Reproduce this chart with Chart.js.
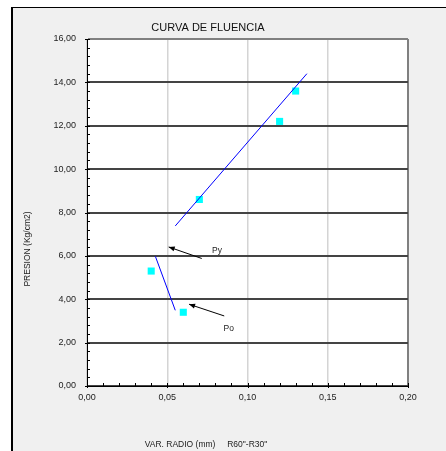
<!DOCTYPE html>
<html>
<head>
<meta charset="utf-8">
<script src="https://cdn.jsdelivr.net/npm/chart.js@4/dist/chart.umd.min.js"></script>
<style>
html,body{margin:0;padding:0;background:#fff;}
canvas{display:block;}
</style>
</head>
<body>
<canvas id="c" width="446" height="451"></canvas>
<script>
// ---- data ----
const pointX = [0.04, 0.06, 0.07, 0.12, 0.13];
const pointY = [5.3, 3.4, 8.6, 12.2, 13.6];
const upperLineX = [0.055, 0.137];
const upperLineY = [7.38, 14.4];
const lowerLineX = [0.0426, 0.055];
const lowerLineY = [5.98, 3.49];
const pyArrowX = [0.0715, 0.0509];
const pyArrowY = [5.88, 6.41];
const poArrowX = [0.0855, 0.0636];
const poArrowY = [3.23, 3.77];
const annotationText = ['Py', 'Po'];
const annotationX = [0.081, 0.0883];
const annotationY = [6.23, 2.65];
const xTickLabels = ['0,00', '0,05', '0,10', '0,15', '0,20'];
const yTickLabels = ['0,00', '2,00', '4,00', '6,00', '8,00', '10,00', '12,00', '14,00', '16,00'];
const chartTitle = 'CURVA DE FLUENCIA';
const xAxisTitle = 'VAR. RADIO (mm)     R60"-R30"';
const yAxisTitle = 'PRESION (Kg/cm2)';

const FONT = "'Liberation Sans', Arial, sans-serif";
const toPts = (xs, ys) => xs.map((x, i) => ({x: x, y: ys[i]}));

const framePlugin = {
  id: 'frame',
  beforeDraw(chart) {
    const ctx = chart.ctx, a = chart.chartArea;
    ctx.save();
    ctx.fillStyle = '#ffffff';
    ctx.fillRect(0, 0, chart.width, chart.height);
    ctx.fillStyle = '#f0f0f0';
    ctx.fillRect(12, 7, chart.width - 12, chart.height - 7);
    ctx.strokeStyle = '#000';
    ctx.lineWidth = 1;
    ctx.beginPath(); ctx.moveTo(11, 7.5); ctx.lineTo(chart.width, 7.5); ctx.stroke();
    ctx.lineWidth = 2;
    ctx.beginPath(); ctx.moveTo(12, 7); ctx.lineTo(12, chart.height); ctx.stroke();
    ctx.fillStyle = '#ffffff';
    ctx.fillRect(a.left, a.top, a.right - a.left, a.bottom - a.top);
    ctx.restore();
  },
  afterDraw(chart) {
    const ctx = chart.ctx, xs = chart.scales.x, ys = chart.scales.y;
    const a = chart.chartArea;
    ctx.save();
    // minor / major ticks
    ctx.strokeStyle = '#000';
    ctx.lineWidth = 1;
    for (let i = 0; i <= 40; i++) {
      const v = i * 0.4;
      const p = Math.round(ys.getPixelForValue(v)) + 0.5;
      const major = i % 5 === 0;
      ctx.beginPath();
      ctx.moveTo(a.left - (major ? 2 : 0), p);
      ctx.lineTo(a.left + 3, p);
      ctx.stroke();
    }
    for (let i = 0; i <= 20; i++) {
      const v = i * 0.01;
      const p = Math.round(xs.getPixelForValue(v)) + 0.5;
      const major = i % 5 === 0;
      ctx.beginPath();
      ctx.moveTo(p, a.bottom + (major ? 2 : 0));
      ctx.lineTo(p, a.bottom - 3);
      ctx.stroke();
    }
    // arrow heads
    const heads = [[pyArrowX, pyArrowY], [poArrowX, poArrowY]];
    ctx.fillStyle = '#000';
    heads.forEach(([hx, hy]) => {
      const x0 = xs.getPixelForValue(hx[0]), y0 = ys.getPixelForValue(hy[0]);
      const x1 = xs.getPixelForValue(hx[1]), y1 = ys.getPixelForValue(hy[1]);
      const ang = Math.atan2(y1 - y0, x1 - x0);
      const L = 6, W = 2.5;
      ctx.beginPath();
      ctx.moveTo(x1, y1);
      ctx.lineTo(x1 - L * Math.cos(ang) + W * Math.sin(ang), y1 - L * Math.sin(ang) - W * Math.cos(ang));
      ctx.lineTo(x1 - L * Math.cos(ang) - W * Math.sin(ang), y1 - L * Math.sin(ang) + W * Math.cos(ang));
      ctx.closePath();
      ctx.fill();
    });
    // annotations
    ctx.fillStyle = '#222';
    ctx.font = '8.5px ' + FONT;
    ctx.textAlign = 'center';
    ctx.textBaseline = 'middle';
    annotationText.forEach((t, i) => {
      ctx.fillText(t, xs.getPixelForValue(annotationX[i]), ys.getPixelForValue(annotationY[i]));
    });
    // titles
    ctx.fillStyle = '#111';
    ctx.font = '11px ' + FONT;
    ctx.fillText(chartTitle, 208, 28);
    ctx.font = '8.5px ' + FONT;
    ctx.fillStyle = '#222';
    ctx.fillText(xAxisTitle, 206, 445);
    ctx.translate(28, 249);
    ctx.rotate(-Math.PI / 2);
    ctx.fillText(yAxisTitle, 0, 0);
    ctx.restore();
  }
};

new Chart(document.getElementById('c'), {
  type: 'scatter',
  data: {
    datasets: [
      {data: toPts(upperLineX, upperLineY), showLine: true, borderColor: '#0000ff', borderWidth: 1, pointRadius: 0, fill: false},
      {data: toPts(lowerLineX, lowerLineY), showLine: true, borderColor: '#0000ff', borderWidth: 1, pointRadius: 0, fill: false},
      {data: toPts(pyArrowX, pyArrowY), showLine: true, borderColor: '#000', borderWidth: 1, pointRadius: 0, fill: false},
      {data: toPts(poArrowX, poArrowY), showLine: true, borderColor: '#000', borderWidth: 1, pointRadius: 0, fill: false},
      {data: toPts(pointX, pointY), pointStyle: 'rect', pointRadius: 5, pointBackgroundColor: '#00ffff', pointBorderWidth: 0, showLine: false}
    ]
  },
  options: {
    responsive: false,
    animation: false,
    devicePixelRatio: 1,
    layout: {padding: {top: 39, right: 38, left: 0, bottom: 0}},
    plugins: {legend: {display: false}, tooltip: {enabled: false}, title: {display: false}},
    scales: {
      x: {
        type: 'linear', min: 0, max: 0.2,
        afterFit(s) { s.height = 65; },
        afterBuildTicks(s) { s.ticks = xTickLabels.map((_, i) => ({value: i * 0.05})); },
        ticks: {
          stepSize: 0.05, padding: 6, color: '#222', maxRotation: 0,
          font: {family: FONT, size: 9},
          callback: (v, i) => xTickLabels[i]
        },
        grid: {
          drawTicks: false,
          color: (c) => (c.index === 4 ? '#808080' : '#d4d4d4'),
          lineWidth: (c) => (c.index === 4 ? 2 : 1.5)
        },
        border: {display: true, color: '#000', width: 1}
      },
      y: {
        type: 'linear', min: 0, max: 16,
        afterFit(s) { s.width = 87; },
        afterBuildTicks(s) { s.ticks = yTickLabels.map((_, i) => ({value: i * 2})); },
        ticks: {
          stepSize: 2, padding: 11, color: '#222',
          font: {family: FONT, size: 9},
          callback: (v, i) => yTickLabels[i]
        },
        grid: {
          drawTicks: false,
          color: (c) => (c.index === 8 ? '#808080' : '#444444'),
          lineWidth: 2
        },
        border: {display: true, color: '#000', width: 1}
      }
    }
  },
  plugins: [framePlugin]
});
</script>
</body>
</html>
